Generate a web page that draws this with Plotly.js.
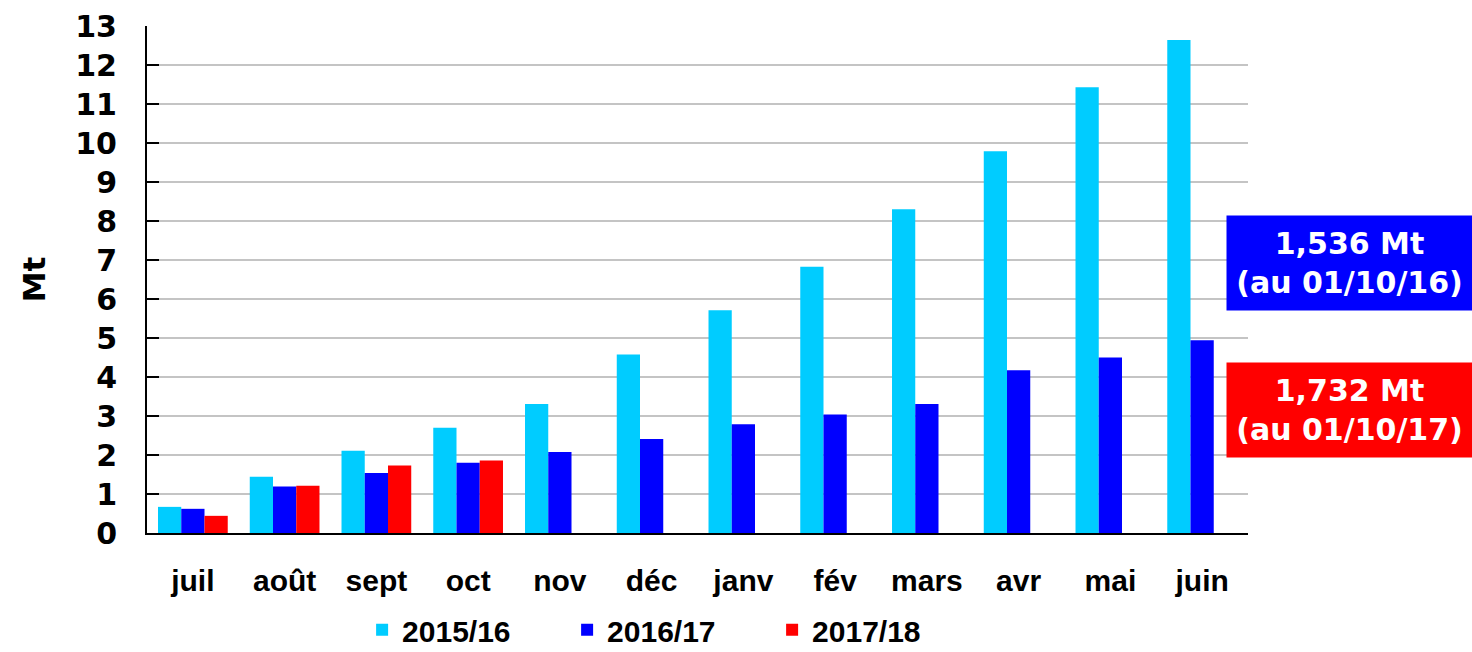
<!DOCTYPE html>
<html>
<head>
<meta charset="utf-8">
<script src="https://cdn.plot.ly/plotly-3.0.1.min.js"></script>
<style>
  body { margin: 0; background: #fff; }
  #plot { width: 1472px; height: 652px; }
</style>
</head>
<body>
<div id="plot"></div>
<script>
const months = ['juil', 'août', 'sept', 'oct', 'nov', 'déc', 'janv', 'fév', 'mars', 'avr', 'mai', 'juin'];
const s2015 = [0.67, 1.44, 2.11, 2.70, 3.31, 4.58, 5.71, 6.83, 8.30, 9.79, 11.43, 12.64];
const s2016 = [0.62, 1.19, 1.536, 1.80, 2.08, 2.41, 2.79, 3.04, 3.31, 4.17, 4.50, 4.94];
const s2017 = [0.44, 1.21, 1.732, 1.86];
const seriesNames = ['2015/16', '2016/17', '2017/18'];
const seriesColors = ['#00ccff', '#0000ff', '#ff0000'];
const notes = ['1,536 Mt<br>(au 01/10/16)', '1,732 Mt<br>(au 01/10/17)'];

const narrow = 'Liberation Sans, Arial, sans-serif';
const wide = 'DejaVu Sans, Verdana, sans-serif';

const data = [s2015, s2016, s2017].map((vals, i) => ({
    type: 'bar',
    name: seriesNames[i],
    x: months.slice(0, vals.length),
    y: vals,
    marker: { color: seriesColors[i] },
    hoverinfo: 'x+y'
}));

const layout = {
    width: 1472,
    height: 652,
    margin: { l: 147, r: 224, t: 26, b: 119 },
    paper_bgcolor: '#fff',
    plot_bgcolor: '#fff',
    barmode: 'group',
    bargap: 0.24,
    bargroupgap: 0,
    showlegend: true,
    legend: {
        orientation: 'h',
        xref: 'container', yref: 'container',
        x: 0.246, xanchor: 'left',
        y: 0.034, yanchor: 'middle',
        font: { family: narrow, size: 30, color: '#000', weight: 'bold' },
        itemwidth: 30,
        entrywidth: 160,
        traceorder: 'normal'
    },
    xaxis: {
        categoryorder: 'array',
        categoryarray: months,
        showline: true, linecolor: '#000', linewidth: 2,
        ticks: '', ticklabelstandoff: 20,
        tickfont: { family: narrow, size: 30, color: '#000', weight: 'bold' },
        showgrid: false,
        automargin: false
    },
    yaxis: {
        range: [0, 13],
        dtick: 1,
        showline: true, linecolor: '#000', linewidth: 2,
        ticks: 'inside', ticklen: 12, tickwidth: 2, tickcolor: '#000',
        ticklabelstandoff: 22,
        tickfont: { family: wide, size: 30, color: '#000', weight: 'bold' },
        showgrid: true, gridcolor: '#c4c4c4', gridwidth: 2,
        zeroline: false,
        automargin: false,
        title: { text: 'Mt', standoff: 20, font: { family: wide, size: 31, color: '#000', weight: 'bold' } }
    },
    annotations: [
        { bg: seriesColors[1], y: 0.533 },
        { bg: seriesColors[2], y: 0.243 }
    ].map((a, i) => ({
        xref: 'paper', yref: 'paper',
        x: 1.092, y: a.y,
        xanchor: 'center', yanchor: 'middle',
        text: notes[i],
        showarrow: false,
        bgcolor: a.bg,
        width: 245, height: 94, borderpad: 0,
        font: { family: wide, size: 30, color: '#fff', weight: 'bold' }
    }))
};

Plotly.newPlot('plot', data, layout, { displayModeBar: false });
</script>
</body>
</html>
